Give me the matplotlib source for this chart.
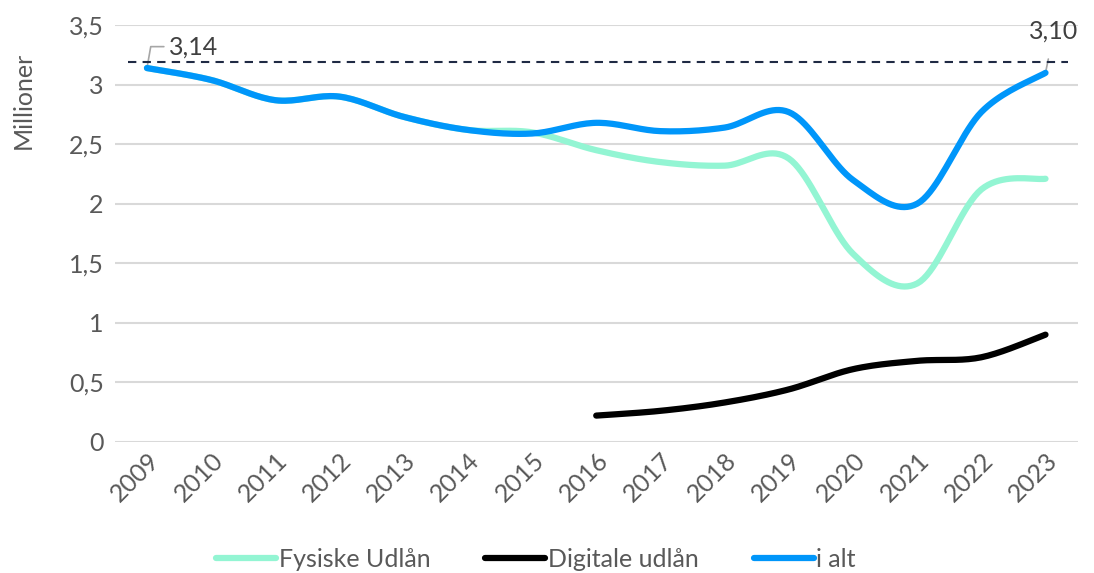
import numpy as np
import matplotlib
matplotlib.use("Agg")
import matplotlib.pyplot as plt

years = list(range(2009, 2024))
fysiske = [3.14, 3.04, 2.87, 2.90, 2.73, 2.62, 2.60, 2.45, 2.35, 2.32, 2.38, 1.58, 1.33, 2.12, 2.21]
digitale_years = list(range(2016, 2024))
digitale = [0.22, 0.26, 0.33, 0.44, 0.61, 0.68, 0.71, 0.90]
i_alt = [3.14, 3.04, 2.87, 2.90, 2.73, 2.62, 2.59, 2.68, 2.61, 2.64, 2.77, 2.20, 2.00, 2.77, 3.10]
ref_level = 3.19
yticks = [0, 0.5, 1, 1.5, 2, 2.5, 3, 3.5]
ytick_labels = ["0", "0,5", "1", "1,5", "2", "2,5", "3", "3,5"]

plt.rcParams['font.family'] = ['Lato', 'DejaVu Sans']
TXT = '#595959'
FS = 18


def smooth(x, y, n=20):
    x = np.asarray(x, float); y = np.asarray(y, float)
    px = np.concatenate([[x[0]], x, [x[-1]]])
    py = np.concatenate([[y[0]], y, [y[-1]]])
    xs, ys = [], []
    for i in range(1, len(px) - 2):
        t = np.linspace(0, 1, n, endpoint=False)
        p0, p1, p2, p3 = (np.array([px[j], py[j]]) for j in range(i - 1, i + 3))
        c1 = p1 + (p2 - p0) / 6
        c2 = p2 - (p3 - p1) / 6
        pts = ((1 - t) ** 3)[:, None] * p1 + (3 * (1 - t) ** 2 * t)[:, None] * c1 + \
              (3 * (1 - t) * t ** 2)[:, None] * c2 + (t ** 3)[:, None] * p2
        xs.extend(pts[:, 0]); ys.extend(pts[:, 1])
    xs.append(x[-1]); ys.append(y[-1])
    return np.array(xs), np.array(ys)


fig = plt.figure(figsize=(10.94, 5.73), dpi=100)
ax = fig.add_axes([0.105, 0.229, 0.88, 0.727])

for v in yticks:
    ax.axhline(v, color='#d9d9d9', lw=1.5, zorder=0)

ax.plot(*smooth(years, fysiske), color='#93f5d3', lw=4.5, solid_capstyle='round', label='Fysiske Udlån', zorder=2)
ax.plot(*smooth(digitale_years, digitale), color='#000000', lw=4.5, solid_capstyle='round', label='Digitale udlån', zorder=3)
ax.plot(*smooth(years, i_alt), color='#0096fa', lw=4.5, solid_capstyle='round', label='i alt', zorder=4)

ax.plot([2008.7, 2023.35], [ref_level, ref_level], color='#1f2a44', lw=1.5, ls=(0, (4, 3)), zorder=5)

ax.set_xlim(2008.5, 2023.5)
ax.set_ylim(0, 3.5)
ax.set_yticks(yticks)
ax.set_yticklabels(ytick_labels)
ax.set_xticks(years)
ax.set_xticklabels([str(y) for y in years], rotation=45, ha='right', rotation_mode='anchor')
ax.tick_params(axis='both', length=0, labelsize=FS, colors=TXT, pad=8)
ax.tick_params(axis='x', pad=5)
for s in ax.spines.values():
    s.set_visible(False)
ax.set_ylabel('Millioner', fontsize=FS, color=TXT)
ax.yaxis.set_label_coords(-0.083, 0.82)

# data labels
ax.annotate('3,14', xy=(years[0], i_alt[0]), xytext=(years[0] + 0.35, 3.32),
            fontsize=FS, color='#404040', va='center', ha='left',
            arrowprops=dict(arrowstyle='-', color='#a6a6a6', lw=1.2,
                            connectionstyle='angle,angleA=0,angleB=80,rad=0', shrinkA=2, shrinkB=0))
ax.annotate('3,10', xy=(years[-1], i_alt[-1]), xytext=(years[-1] - 0.25, 3.45),
            fontsize=FS, color='#404040', va='center', ha='left',
            arrowprops=dict(arrowstyle='-', color='#a6a6a6', lw=1.2, shrinkA=10, shrinkB=0))

leg = fig.legend(loc='lower center', bbox_to_anchor=(0.49, -0.035), ncol=3, frameon=False,
                 fontsize=FS, handlelength=2.4, handletextpad=0.1, columnspacing=2.2)
for t in leg.get_texts():
    t.set_color(TXT)

fig.savefig('out.png', dpi=100)
